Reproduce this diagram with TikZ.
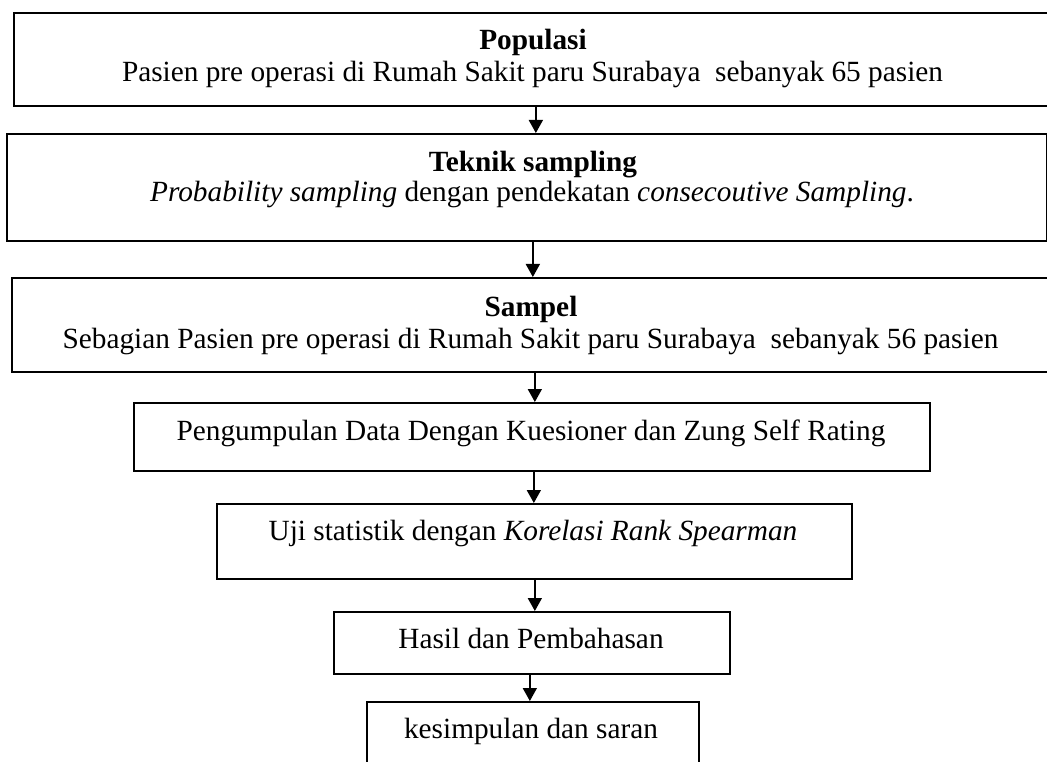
\documentclass[tikz,border=0pt]{standalone}
\usepackage{fontspec}
\setmainfont{Liberation Serif}
\usetikzlibrary{arrows.meta}
\begin{document}
\begin{tikzpicture}[x=1pt,y=-1pt,
  box/.style={draw=black, line width=1.7pt, rectangle, inner sep=0pt, anchor=north west},
  txt/.style={inner sep=0pt, anchor=base, font=\fontsize{29.3}{34}\selectfont},
  arr/.style={-{Triangle[length=13pt,width=14pt]}, line width=1.7pt}]
\useasboundingbox (0,0) rectangle (1047,762);
\clip (0,0) rectangle (1047,762);
\fill[white] (0,0) rectangle (1047,762);
% boxes
\node[box, minimum width=1039pt, minimum height=93pt]  (b1) at (13,12)  {};
\node[box, minimum width=1040pt, minimum height=107pt] (b2) at (6,133)  {};
\node[box, minimum width=1041pt, minimum height=94pt]  (b3) at (11,277) {};
\node[box, minimum width=796pt,  minimum height=68pt]  (b4) at (133,402) {};
\node[box, minimum width=635pt,  minimum height=75pt]  (b5) at (216,503) {};
\node[box, minimum width=396pt,  minimum height=62pt]  (b6) at (333,611) {};
\node[box, minimum width=332pt,  minimum height=79pt]  (b7) at (366,701) {};
% texts
\node[txt] (t1a) at (533,50) {\textbf{Populasi}};
\node[txt] (t1b) at (532.5,82) {Pasien pre operasi di Rumah Sakit paru Surabaya\ \ sebanyak 65 pasien};
\node[txt] (t2a) at (533,172) {\textbf{Teknik sampling}};
\node[txt] (t2b) at (532,202) {\textit{Probability sampling} dengan pendekatan \textit{consecoutive Sampling}.};
\node[txt] (t3a) at (531,316) {\textbf{Sampel}};
\node[txt] (t3b) at (530.5,348) {Sebagian Pasien pre operasi di Rumah Sakit paru Surabaya\ \ sebanyak 56 pasien};
\node[txt] (t4) at (531,440) {Pengumpulan Data Dengan Kuesioner dan Zung Self Rating};
\node[txt] (t5) at (533,540) {Uji statistik dengan \textit{Korelasi Rank Spearman}};
\node[txt] (t6) at (531,648) {Hasil dan Pembahasan};
\node[txt] (t7) at (531,738) {kesimpulan dan saran};
% arrows
\draw[arr] ([xshift=2.5pt]b1.south) -- ([xshift=9pt]b2.north);
\draw[arr] ([xshift=6pt]b2.south) -- ([xshift=0.5pt]b3.north);
\draw[arr] ([xshift=2.5pt]b3.south) -- ([xshift=3pt]b4.north);
\draw[arr] ([xshift=2pt]b4.south) -- ([xshift=-0.5pt]b5.north);
\draw[arr] ([xshift=0.5pt]b5.south) -- ([xshift=3pt]b6.north);
\draw[arr] ([xshift=-2pt]b6.south) -- ([xshift=-3pt]b7.north);
\end{tikzpicture}
\end{document}
